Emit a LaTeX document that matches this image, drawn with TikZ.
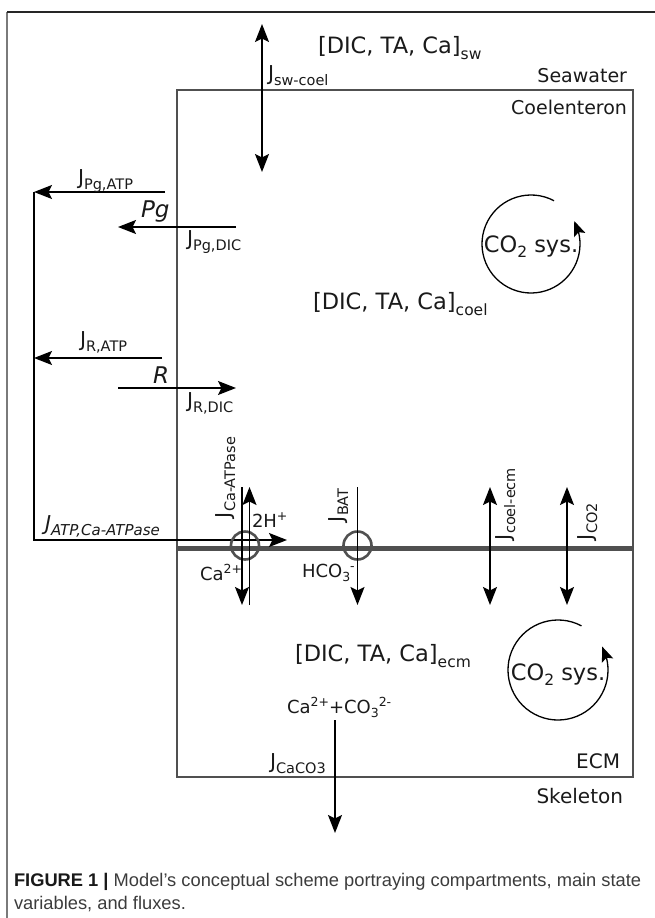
\documentclass[tikz,border=0pt]{standalone}
\usepackage{fontspec}
\setmainfont{DejaVu Sans}
\newfontfamily\capfont{Liberation Sans}
\usetikzlibrary{arrows.meta,bending}
\definecolor{boxc}{HTML}{505050}
\definecolor{txt}{HTML}{1A1A1A}
\definecolor{capc}{HTML}{3C3C3C}
\definecolor{framel}{HTML}{7A7A7A}
\newcommand{\fsz}[1]{\fontsize{#1}{#1}\selectfont}
\newcommand{\Jl}[1]{{\fsz{20.5}J}\raisebox{-5pt}{\fsz{14.5}#1}}
\newcommand{\Ji}[1]{{\fsz{20.5}\itshape J}\raisebox{-5pt}{\fsz{15}\itshape #1}}
\newcommand{\stv}[1]{{\fsz{22.5}[DIC, TA, Ca]}\raisebox{-6pt}{\fsz{15.5}#1}}
\newcommand{\sysl}{{\fsz{22.5}CO\raisebox{-5pt}{\fsz{15.5}2} sys.}}
\newcommand{\spr}[1]{\raisebox{7pt}{\fsz{12.5}#1}}
\newcommand{\sbr}[1]{\raisebox{-4pt}{\fsz{12.5}#1}}
\begin{document}
\begin{tikzpicture}[x=1pt,y=-1pt,
  every node/.style={inner sep=0pt,outer sep=0pt,text=txt},
  >={Stealth[length=18pt,width=14pt,inset=3.5pt]},
  boxline/.style={draw=boxc,line width=2.8pt},
  memline/.style={draw=boxc,line width=5pt},
  flux/.style={draw=black,line width=1.6pt},
  chan/.style={draw=boxc,line width=2.6pt},
  cycarr/.style={draw=black,line width=1.3pt,-{Stealth[length=15pt,width=12pt,inset=3pt]}},
  comptop/.style={font=\fsz{19}},
  compbot/.style={font=\fsz{20}},
  ion/.style={font=\fsz{18}},
  rot/.style={rotate=90,anchor=base west}]
\useasboundingbox (0,0) rectangle (655,918);
\fill[white] (0,0) rectangle (655,918);
% outer frame
\draw[framel,line width=1.3pt] (7,918) -- (7,12);
\draw[black!85,line width=1.3pt] (7,12) -- (655,12);
% compartments
\draw[boxline] (177,90) rectangle (633,548);
\draw[boxline] (177,548) rectangle (633,777);
\draw[memline] (177,548) -- (633,548);
% compartment labels
\node[comptop,anchor=base east] (sea) at (627,82) {Seawater};
\node[comptop,anchor=base east] (coel) at (627,114) {Coelenteron};
\node[compbot,anchor=base east] (ecm) at (620,768) {ECM};
\node[compbot,anchor=base east] (skel) at (623,803) {Skeleton};
% state variables
\node[anchor=base west] (svsw) at (318,53) {\stv{sw}};
\node[anchor=base west] (svcoel) at (313,309) {\stv{coel}};
\node[anchor=base west] (svecm) at (295,661) {\stv{ecm}};
% CO2 systems
\node (sys1) at (531,247) {\sysl};
\node (sys2) at (558,675) {\sysl};
\coordinate (cyc1) at (531,244);
\coordinate (cyc2) at (558,670);
\draw[cycarr] (cyc1) ++(62:49pt) arc[start angle=62,end angle=388,radius=49pt];
\draw[cycarr] (cyc2) ++(62:50pt) arc[start angle=62,end angle=388,radius=50pt];
% seawater-coelenteron flux
\coordinate (swt) at (262,24);
\coordinate (swb) at (262,172);
\draw[flux,<->] (swt) -- (swb);
\node[anchor=base west] (jsw) at (268,80) {\Jl{sw-coel}};
% photosynthesis / respiration
\coordinate (pgA0) at (165,192);
\coordinate (atpT) at (34,192);
\coordinate (pgD0) at (236,227);
\coordinate (pgD1) at (118,227);
\coordinate (rA0) at (162,358);
\coordinate (rA1) at (34,358);
\coordinate (rD0) at (118,388);
\coordinate (rD1) at (236,388);
\coordinate (atpB) at (34,540);
\coordinate (atpE) at (287,540);
\draw[flux,->] (pgA0) -- (atpT);
\draw[flux,->] (pgD0) -- (pgD1);
\draw[flux,->] (rA0) -- (rA1);
\draw[flux,->] (rD0) -- (rD1);
\draw[flux,->] (atpT) -- (atpB) -- (atpE);
\node[anchor=base west] (jpgatp) at (78,184) {\Jl{Pg,ATP}};
\node[anchor=base west,font=\fsz{23}\itshape] (pg) at (141,217) {Pg};
\node[anchor=base west] (jpgdic) at (187,245) {\Jl{Pg,DIC}};
\node[anchor=base west] (jratp) at (80,346) {\Jl{R,ATP}};
\node[anchor=base west,font=\fsz{23}\itshape] (rr) at (153,383) {R};
\node[anchor=base west] (jrdic) at (187,407) {\Jl{R,DIC}};
\node[anchor=base west] (jatp) at (45,530) {\Ji{ATP,Ca-ATPase}};
% channels
\node[circle,chan,minimum size=28pt] (caatp) at (245,545.5) {};
\node[circle,chan,minimum size=28pt] (bat) at (357.5,545.5) {};
\coordinate (caT) at (242,487);
\coordinate (caB) at (242,605);
\coordinate (hB) at (249.5,605);
\coordinate (hT) at (249.5,487);
\coordinate (batT) at (357.5,487);
\coordinate (batB) at (357.5,605);
\coordinate (ceT) at (490,487);
\coordinate (ceB) at (490,605);
\coordinate (co2T) at (567,487);
\coordinate (co2B) at (567,605);
\draw[flux,->] (caT) -- (caB);
\draw[flux,->] (hB) -- (hT);
\draw[flux,->] (batT) -- (batB);
\draw[flux,<->] (ceT) -- (ceB);
\draw[flux,<->] (co2T) -- (co2B);
\node[rot] (jca) at (230,518) {\Jl{Ca-ATPase}};
\node[rot] (jbat) at (343,522) {\Jl{BAT}};
\node[rot] (jce) at (510,540) {\Jl{coel-ecm}};
\node[rot] (jco2) at (592,540) {\Jl{CO2}};
\node[ion,anchor=base west] (hh) at (252,527) {2H\spr{+}};
\node[ion,anchor=base west] (ca) at (200,580) {Ca\spr{2+}};
\node[ion,anchor=base west] (hco) at (302,577) {HCO\sbr{3}\spr{-}};
% calcification
\node[ion,anchor=base west] (prec) at (287,713) {Ca\spr{2+}+CO\sbr{3}\spr{2-}};
\coordinate (cc0) at (335,720);
\coordinate (cc1) at (335,833);
\draw[flux,->] (cc0) -- (cc1);
\node[anchor=base west] (jcc) at (270,768) {\Jl{CaCO3}};
% caption
\node[anchor=base west,text=capc] (cap1) at (14,886) {\capfont\fsz{18.3}{\color{black!90}\bfseries FIGURE 1 |} Model’s conceptual scheme portraying compartments, main state};
\node[anchor=base west,text=capc] (cap2) at (14,909) {\capfont\fsz{18.3}variables, and fluxes.};
\end{tikzpicture}
\end{document}
